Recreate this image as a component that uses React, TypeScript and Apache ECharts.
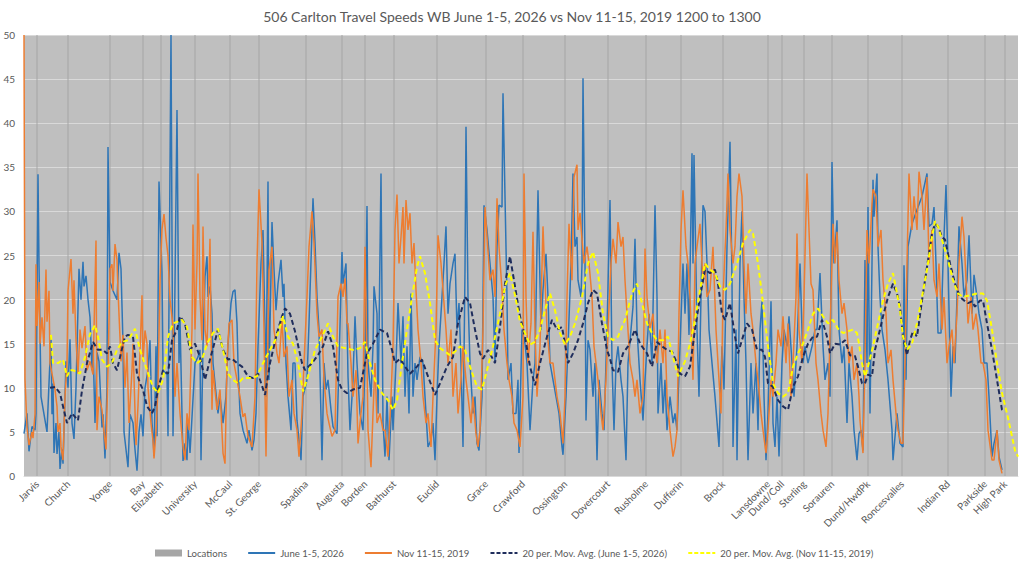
import React, { useEffect, useRef } from "react";
import * as echarts from "echarts";

const TITLE = "506 Carlton Travel Speeds WB June 1-5, 2026 vs Nov 11-15, 2019 1200 to 1300";
const SAMPLE_COUNT = 995;
const Y_TICKS = [0, 5, 10, 15, 20, 25, 30, 35, 40, 45, 50];

const LOCATIONS = ["Jarvis", "Church", "Yonge", "Bay", "Elizabeth", "University", "McCaul", "St. George", "Spadina", "Augusta", "Borden", "Bathurst", "Euclid", "Grace", "Crawford", "Ossington", "Dovercourt", "Rusholme", "Dufferin", "Brock", "Lansdowne", "Dund/Coll", "Sterling", "Sorauren", "Dund/HwdPk", "Roncesvalles", "Indian Rd", "Parkside", "High Park"];
const LOCATION_INDEX = [13, 44, 86, 119, 137, 171, 206, 235, 282, 318, 341, 370, 413, 462, 499, 541, 584, 622, 657, 699, 744, 758, 780, 808, 844, 878, 924, 961, 981];

const JUNE_2026 = [
  [0,4.8],[3,7.1],[5,2.8],[8,5.6],[11,5.2],[12,7.1],[14,34.2],[15,24],[17,9],[23,5],[25,10.5],[27,15.8],[28,7],[29,10.5],[30,2.6],[32,6],[33,2.5],[35,5],[36,0.8],[38,3],[39,1.4],[42,13],[44,10],[46,15.5],[48,6],[50,4.2],[52,10],[55,23.5],[57,20],[59,24.3],[60,21.5],[62,22.7],[64,20],[66,18],[68,12],[69,15],[71,6],[73,14],[75,13],[78,5.5],[79,7],[81,2],[83,10],[84,37.3],[86,22],[89,21],[93,20],[95,25.3],[97,23.5],[99,15],[100,5],[102,3],[104,1],[106,7],[109,6],[111,3],[113,0.6],[115,5],[117,7],[119,4.5],[121,10],[124,12],[126,15.4],[128,6],[129,4.5],[130,2.3],[132,14.7],[133,4.5],[135,33.4],[138,23],[139,12],[143,11.5],[144,4.5],[147,50],[149,4.5],[150,12],[153,41.5],
  [155,12.8],[156,17.7],[159,1.7],[161,3.7],[163,1.8],[164,6.3],[166,2.6],[171,12.8],[174,13.5],[176,14.3],[177,1.8],[179,14.7],[181,22.6],[183,24.9],[184,20.3],[186,21.5],[188,18.4],[189,12.8],[191,10.5],[194,7.1],[196,9],[199,6],[202,9],[204,15],[207,19.6],[209,20.9],[211,21.1],[213,17.3],[214,12.8],[216,7.1],[219,5.2],[223,3.7],[225,5.2],[228,2.9],[230,4.1],[232,7.1],[234,14.7],[237,24.1],[239,27.9],[241,16.6],[242,9],[244,33.4],[245,10.9],[248,28.8],[250,23.4],[252,18.8],[254,21.8],[257,24.5],[259,20.3],[260,21.8],[262,12.8],[264,9],[267,5.2],[269,12.8],[271,12.8],[273,6.3],[277,1.8],[279,9],[283,10.9],[285,17.3],[288,27.9],[289,31.5],[291,26.4],[293,20.3],[295,16.6],[298,1.8],[300,12.8],[302,9.8],[304,10.9],[307,7.5],[309,5.6],[313,4.8],[315,12.8],[318,25.4],[319,21.8],[322,24.1],[324,11.3],
  [326,5.2],[329,10.9],[331,18.1],[333,12.8],[336,7.1],[339,5.2],[341,12.8],[343,30.6],[344,12.8],[347,9],[349,14.7],[350,21.5],[353,18.4],[354,7.1],[357,34.3],[359,6],[361,2.2],[363,9],[365,1.8],[368,9],[369,5.2],[372,12.8],[374,19.6],[377,12.8],[379,18.1],[381,9],[383,14.7],[385,7.1],[387,20.7],[389,9],[391,12.8],[393,10.9],[396,13.5],[399,12.8],[402,7.1],[404,3.3],[407,4.1],[409,6],[411,1.8],[413,9],[415,14.7],[418,20.3],[420,24.1],[422,28.3],[424,18.4],[426,21.8],[429,24.1],[431,25.2],[433,16.6],[435,19.6],[437,12.8],[439,3.3],[441,23.4],[442,39.6],[444,20.3],[446,12.8],[449,7.1],[451,9],[453,3.7],[455,2.9],[458,9],[460,30.7],[463,27.9],[466,24.1],[469,20.3],[471,12.8],[473,26],[475,30.7],[478,30.5],[479,43.4],[481,31.7],[483,20.3],[484,10.9],[487,12.8],[489,7.1],[492,7.1],[494,10.9],
  [495,2.6],[498,16.6],[501,15],[503,12.8],[506,5.2],[509,10.9],[511,12.8],[514,32.4],[517,16.6],[519,21.1],[522,25.2],[524,20.3],[526,12.8],[529,10.9],[532,9],[535,7.1],[538,3.3],[539,2.4],[542,9],[544,14.7],[547,24.1],[549,34.3],[551,26],[553,27.1],[554,22.2],[557,20.3],[558,24.1],[559,45.1],[561,24.1],[562,6.3],[564,15.4],[566,14.3],[569,9],[571,12.8],[573,1.8],[575,10.9],[578,7.1],[580,5.2],[583,16.6],[586,31.3],[588,12.8],[590,5.2],[592,12.8],[594,14.7],[597,10.9],[599,9],[602,1.8],[604,12.8],[607,16.6],[609,19.2],[611,26.9],[613,16.6],[616,10.9],[619,6.3],[621,10.9],[623,14.7],[625,18.4],[628,12.8],[631,30.7],[633,20.3],[634,7.1],[637,12.8],[639,7.1],[641,10.9],[643,5.2],[646,9],[649,6],[651,7.1],[653,5.2],[656,14.7],[659,24.1],[661,18.4],[663,24.1],[665,16],[668,36.6],[669,24.1],[670,36.4],
  [673,16.6],[675,9],[678,26],[679,30.7],[681,30],[683,24.1],[685,16.6],[688,12.8],[691,9],[695,3.3],[698,14.7],[700,9.8],[703,26],[706,37.9],[708,22.2],[709,3.3],[712,16.6],[713,1.8],[716,24.1],[718,30],[720,20.3],[722,12.8],[724,1.8],[727,12.8],[729,7.1],[732,12.8],[734,5.2],[736,16.6],[738,19.8],[740,9],[742,1.8],[744,7.1],[747,19.8],[749,6],[751,3.3],[753,9],[755,2.2],[758,12.8],[760,16.6],[763,14.7],[765,18.1],[768,12.8],[770,9],[773,14.7],[776,24.1],[779,12.8],[781,14.7],[784,12.8],[788,14.7],[791,16.6],[793,16.6],[796,23],[799,14.7],[801,10.9],[804,12.8],[806,9],[808,35.6],[810,24.1],[813,29],[815,16.6],[818,12.8],[820,14.7],[823,6],[825,12.8],[828,9],[830,5.2],[833,1.8],[835,4.8],
  [837,5.2],[839,2.9],[841,24.5],[843,12.8],[844,30.5],[846,7.1],[848,24.1],[849,33.6],[850,29.4],[853,34.3],[854,26],[856,20.3],[858,16.6],[861,14.3],[864,10.9],[868,5.2],[869,1.8],[873,7.1],[876,3.7],[879,3.3],[880,23.9],[882,10.9],[884,26],[888,28.6],[893,30.2],[898,31.7],[903,34.3],[905,28.3],[908,28.6],[910,30.5],[912,24.1],[914,16.2],[917,16.2],[919,24.1],[922,33],[924,24.1],[927,9],[929,14.7],[931,12.8],[933,20.3],[935,28.3],[938,24.1],[940,20.3],[943,22.2],[945,27.3],[948,18.4],[950,22.8],[953,20.3],[955,18.4],[958,16.6],[960,12.8],[963,12.8],[965,9],[968,2.2],[970,3.7],[973,5.2],[975,2.2],[978,0.7]
];

const NOV_2019 = [
  [0,50],[1,11],[3,5.5],[5,3.5],[8,5],[9,4.3],[11,7],[12,24],[13,17],[15,22],[16,15],[18,18],[20,14.7],[22,23.4],[23,17.5],[25,21],[26,12.8],[29,11],[31,9.8],[33,7.9],[34,5],[36,6],[37,3.3],[39,1.8],[41,9],[43,12.8],[44,21],[47,24.6],[49,18.4],[50,22.2],[52,15.4],[54,11.6],[56,16.6],[58,14.5],[61,17],[63,12],[66,13],[69,11.5],[72,26.7],[73,5.2],[75,9],[78,7.5],[80,5],[82,3],[84,12],[86,23.5],[88,24],[89,21],[91,26.3],[93,24.5],[94,21],[97,13],[99,16],[101,10],[103,14],[105,6],[108,12],[109,15],[112,3.5],[114,8],[116,14],[118,20.5],[119,13],[121,16.5],[123,15],[124,10],[127,6],[129,4],[130,2],[132,5],[134,10],[136,22],[138,28],[140,29.7],[142,27],[144,25],[146,20],[149,17],
  [151,9],[153,12.8],[156,7.1],[159,3.3],[161,1.8],[163,7.1],[165,5.2],[168,16.6],[169,28.5],[171,16.6],[173,24.1],[174,34.3],[176,20.3],[178,15.4],[179,28.3],[181,16.6],[183,14.7],[186,26.9],[188,7.5],[189,12],[193,7.5],[196,9.8],[199,2.6],[201,1.4],[203,12.8],[205,17.3],[208,17.7],[210,12.8],[213,10.9],[216,9],[219,6.7],[221,7.1],[224,4.5],[228,3.3],[231,9],[233,24.1],[235,32.5],[238,26.4],[240,16.6],[242,2.2],[245,23.4],[248,26],[250,16.6],[253,13.9],[255,12.8],[258,17.7],[260,13.5],[263,14.7],[265,9],[268,10.9],[270,7.1],[273,5.2],[275,2.2],[278,7.1],[280,12.8],[283,20.3],[285,26],[288,30],[290,26.4],[293,18.4],[295,15.8],[298,16.6],[300,10.9],[303,7.1],[305,6],[308,4.5],[311,5.2],[314,20.3],[317,21.8],[319,20.3],[321,22.4],[323,17.3],
  [324,17.3],[327,12.8],[329,9],[332,12],[334,3.7],[337,7.1],[339,9],[341,26],[343,12.8],[344,5.2],[347,1],[349,7.1],[351,12.8],[353,6],[356,7.1],[359,5.2],[361,5.2],[364,2.2],[367,9],[369,14.7],[371,27.9],[373,31.9],[375,24.1],[377,27.1],[379,30.5],[380,24.1],[382,31.3],[384,27.9],[386,29.8],[388,24.1],[390,26.4],[392,21.1],[394,16.6],[397,12.8],[399,9],[402,6],[404,7.1],[407,3.3],[409,9],[412,16.6],[414,27.3],[417,24.1],[419,21.1],[422,16.6],[424,12.8],[427,16.6],[429,9],[432,12.8],[434,7.1],[437,10.9],[439,14.7],[442,10.9],[444,9],[447,6],[449,9],[452,4.8],[454,3.3],[456,5.2],[459,16.6],[461,30.5],[463,27.1],[466,22.2],[469,23.4],[471,20.3],[473,31.5],[475,26],[478,21.1],[480,16.6],[483,12.8],[485,10.9],[488,9],[490,6],[493,5.2],[496,3.3],
  [499,9],[500,34.3],[502,20.3],[504,12.8],[507,17.3],[509,27.7],[511,16.6],[513,9],[516,14.7],[519,28.3],[521,22.2],[523,16.6],[526,12.8],[529,12.8],[531,10.9],[533,9],[536,7.1],[539,3.7],[541,9],[543,20.3],[545,28.6],[548,22.2],[550,33.9],[553,35.3],[554,27.9],[556,29.8],[558,26.8],[560,24.1],[563,26],[565,24.1],[568,20.3],[570,14.7],[572,12.8],[574,10.9],[577,7.1],[579,5.2],[582,10.9],[584,16.6],[587,24.1],[589,26.9],[592,24.1],[594,28.8],[597,26],[599,27.1],[601,22.2],[603,18.4],[606,12.8],[609,10.9],[611,9],[613,10.9],[616,7.1],[619,9],[621,25.8],[623,20.3],[626,16.6],[629,18.4],[631,14.7],[633,12.8],[636,16.6],[639,12.8],[641,16.6],[643,9],[646,5.2],[649,2.2],[651,3.3],[653,5.2],[655,18.4],[657,27.9],[659,32.4],[662,26],[664,24.1],
  [666,20.3],[669,10.9],[671,24.1],[673,26],[676,28.6],[679,21.8],[681,24.1],[683,20.3],[686,21.1],[689,26],[692,16.6],[694,12.8],[697,7.1],[699,20.3],[702,27.9],[704,34.3],[706,27.9],[709,24.1],[711,26],[713,31.7],[715,34.3],[718,31.7],[720,24.1],[722,18.4],[724,24.1],[727,18.4],[729,16.6],[732,12.8],[734,10.9],[737,7.1],[739,5.2],[742,2.6],[744,5.2],[747,10.9],[749,9],[752,12.8],[754,16.6],[757,14.7],[759,18.1],[762,12.8],[764,17.3],[767,9],[769,12.8],[772,20.3],[773,27.5],[775,16.6],[778,12.8],[780,20.3],[783,34.3],[785,27.9],[787,21.8],[789,21.1],[792,12.8],[794,10.9],[797,7.1],[799,5.2],[802,3.3],[804,7.1],[807,20.3],[809,28.6],[811,24.1],[813,27.7],[815,22.2],[818,18.4],[820,19.6],[823,16.6],[825,12.8],[828,14.7],[830,10.9],[833,12.8],[835,9],
  [836,6.3],[839,2.6],[841,12.8],[843,27.9],[845,24.1],[848,30.9],[849,32.5],[852,31.7],[854,26],[857,27.9],[859,22.2],[862,18.4],[864,12.8],[867,14.3],[869,10.9],[872,7.1],[874,5.2],[877,3.7],[879,3.7],[881,12.8],[883,24.1],[885,34.3],[888,27.9],[890,31.7],[893,27.9],[895,34.5],[898,31.7],[900,27.9],[903,33.9],[905,24.1],[908,27.9],[910,22.2],[913,20.3],[915,24.1],[918,16.6],[920,20.3],[923,12.8],[925,14.7],[928,16.6],[930,12.8],[933,18.4],[935,24.1],[938,29.4],[940,27.1],[942,22.2],[944,17.3],[947,20.3],[949,16.6],[952,18.4],[954,16.6],[957,12.8],[959,12.8],[962,10.9],[964,5.2],[968,1.8],[970,1.8],[973,5.2],[975,1.8],[978,0.3]
];

const JUNE_MA = [
  [26,10],[31,10.1],[36,9.4],[39,7.9],[43,6],[48,7.1],[51,6.7],[54,6.3],[58,9.7],[63,12.8],[69,15.2],[74,14.3],[79,14.3],[83,13.9],[86,14.7],[89,12.8],[93,12],[96,13.5],[101,15.8],[104,16],[109,15.8],[113,11.6],[116,10.5],[119,9.8],[123,7.9],[128,7.1],[131,7.9],[134,9.8],[139,12],[144,11.6],[148,15.4],[153,16.6],[156,18.1],[161,17.3],[166,14.3],[171,15],[176,13.5],[181,10.9],[186,13.2],[194,16.6],[199,14.3],[204,13.2],[208,13.3],[213,12.8],[218,12.4],[224,11.3],[229,11.1],[234,11.6],[241,9.2],[246,12.8],[253,16.2],[258,18.1],[261,19],[266,18.4],[271,16.4],[278,12.8],[281,12],[288,12.8],[294,13.7],[299,14.7],[304,16.4],[309,14.7],[314,10.9],[318,9.8],[323,9.4],[329,9.8],[336,10],[343,13.9],[349,15],[356,16.6],[363,16.2],[368,14.3],[371,12.8],[376,13.3],[381,12.4],[386,11.6],[393,12.4],[398,13.2],[403,11.6],[411,9.2],[416,10.5],[423,12.4],[429,13.5],[434,17.3],[441,20.3],[446,19.6],[451,16.6],[456,13.9],[459,13.3],[464,14.3],[471,12.8],[476,16.9],[481,21.8],[486,24.9],[491,21.5],[496,18.1],[501,15.8],[506,12.4],[511,10.3],[516,12.8],[523,15.8],[528,17.7],[533,16.6],[538,16.9],[541,15],[544,12.8],[549,13.9],[554,15.4],[559,17.3],[564,19.6],[569,21.1],[573,20.7],[578,17.3],[583,14.3],[586,13.3],[589,12],[594,11.8],[599,13.9],[604,14.7],[611,16.6],[616,15],[623,13.9],[628,12.4],[633,15.2],[638,14.7],[643,14.3],[648,14.1],[653,12.8],[656,11.6],[661,11.3],[666,12.4],[671,16.6],[676,20.3],[681,23.4],[686,23],[691,23.4],[694,21.8],[698,18.4],[701,17.7],[706,19.6],[711,15.8],[714,13.9],[719,15.8],[723,17.3],[728,16.6],[733,14.3],[738,14.3],[741,13.5],[744,10.5],[749,10.1],[754,8.6],[759,7.9],[764,7.5],[769,10.1],[774,11.3],[779,13.5],[784,15],[789,15.8],[793,15.8],[798,17.7],[803,15.8],[806,13.9],[811,15],[816,14.9],[821,15.4],[826,13.7],[831,13.6],[834,12.4],[838,10.5],[841,10.5],[844,11.5],[848,11.3],[851,14.3],[856,16.6],[859,18.1],[864,20.3],[869,21.8],[873,20.7],[876,19.2],[879,15.8],[883,13.7],[886,15.4],[889,16.4],[893,15.8],[898,19.9],[903,23.7],[908,27.5],[911,28.6],[914,28.3],[918,27.1],[921,26.8],[926,24.1],[931,21.8],[936,20.3],[941,19.8],[944,19.6],[948,19.8],[951,19.2],[956,19.9],[959,19.9],[963,17.3],[968,14.3],[973,10.9],[978,7.5],[980,7.5]
];

const NOV_MA = [
  [27,16],[29,12.8],[34,12.8],[39,13.2],[43,11.3],[46,12],[49,12],[56,11.6],[61,13.5],[66,16.1],[71,17.1],[74,15.8],[78,13.2],[83,12.4],[88,12.8],[93,14.3],[98,15.2],[104,15.4],[111,16.7],[116,14.3],[123,12],[129,10.1],[134,9.4],[139,10.9],[144,15.8],[149,17.3],[158,17.7],[163,16.9],[168,13.5],[173,12.8],[178,13.2],[183,15],[189,16.2],[194,16.7],[199,14.3],[204,11.6],[209,10.9],[214,10.5],[219,11.1],[226,11.1],[233,11.3],[239,12.8],[246,14.3],[253,15.8],[259,18.1],[264,15.8],[269,15],[274,12.8],[279,9.6],[284,11.3],[291,14.3],[298,15.8],[304,17.3],[309,15.8],[314,14.7],[321,14.5],[329,14.3],[336,14.5],[341,15.2],[346,12.8],[351,10.9],[358,9.4],[364,8.6],[369,7.5],[373,8.6],[378,12.8],[383,16.6],[388,20.3],[393,23.7],[396,24.9],[401,23],[406,19.6],[411,15.4],[416,14.5],[421,14.1],[426,13.7],[431,14.1],[436,14.7],[441,14.3],[446,12.4],[453,10.1],[458,9.8],[463,12],[469,14.7],[476,18.4],[481,21.5],[486,23],[491,20.5],[496,17.5],[501,16.2],[506,14.9],[511,15.2],[516,16.6],[521,18.8],[526,20.7],[531,18.8],[536,16.2],[541,14.9],[546,15.8],[551,17.3],[558,20.3],[564,24.1],[569,25.4],[574,23],[579,18.4],[584,15.8],[589,15.4],[594,15.8],[601,17.7],[608,20.7],[613,21.8],[618,19.6],[623,17.3],[628,16.2],[633,15.4],[639,15.4],[644,15.8],[649,13.5],[654,11.3],[656,11.8],[661,13],[666,15],[671,17.7],[676,21.1],[681,24.1],[686,23.4],[691,23],[696,21.5],[701,21.1],[706,21.8],[713,24.1],[719,26.4],[726,27.9],[729,27.5],[734,24.1],[739,19.6],[744,14.7],[749,10.5],[754,9.4],[759,9],[764,9.4],[769,12.4],[774,13.9],[779,15],[784,16.6],[789,18.4],[794,19],[799,18.1],[804,17.3],[809,17.7],[814,16.7],[819,16.2],[824,16.4],[829,16.6],[833,16.2],[835,15],[838,12.8],[841,11.3],[844,12.4],[849,14.7],[854,17.3],[859,19.9],[864,21.8],[869,23],[873,20.7],[876,18.8],[879,15.8],[883,14.3],[888,15],[893,17.3],[898,20.3],[903,23.4],[908,27.1],[911,28.9],[914,28.3],[919,26.4],[924,24.5],[929,22.2],[934,20.7],[939,20.3],[946,20.5],[953,20.7],[959,20.7],[963,19.9],[968,16.6],[973,12.8],[978,9.4],[983,7.1],[988,4.5],[991,2.9],[994,2.2]
];

const FONT = "Lato, 'Liberation Sans', sans-serif";
const TEXT_COLOR = "#595959";
const SOLID_ICON = "path://M0,0h27v2h-27z";
const DASH_ICON = "path://M0,0h4v2h-4zM6,0h4v2h-4zM12,0h4v2h-4zM18,0h4v2h-4zM24,0h3v2h-3z";

export default function App() {
  const ref = useRef<HTMLDivElement>(null);

  useEffect(() => {
    if (!ref.current) return;
    const chart = echarts.init(ref.current, undefined, { renderer: "svg" });
    const categories = Array.from({ length: SAMPLE_COUNT }, (_, i) => String(i + 1));
    const labelOf = (i: number) => {
      const k = LOCATION_INDEX.indexOf(i);
      return k >= 0 ? LOCATIONS[k] : "";
    };
    const locationBars = LOCATION_INDEX.map((i) => [i, Y_TICKS[Y_TICKS.length - 1]]);

    chart.setOption({
      animation: false,
      backgroundColor: "#ffffff",
      textStyle: { fontFamily: FONT },
      title: {
        text: TITLE,
        left: "center",
        top: 4,
        textStyle: { fontFamily: FONT, fontSize: 14, fontWeight: "normal", color: TEXT_COLOR },
      },
      legend: {
        left: 150,
        top: 543,
        itemWidth: 27,
        itemHeight: 7,
        itemGap: 21,
        textStyle: { fontFamily: FONT, fontSize: 9.6, color: TEXT_COLOR },
        data: [
          { name: "Locations", icon: "rect" },
          { name: "June 1-5, 2026", icon: SOLID_ICON },
          { name: "Nov 11-15, 2019", icon: SOLID_ICON },
          { name: "20 per. Mov. Avg. (June 1-5, 2026)", icon: DASH_ICON },
          { name: "20 per. Mov. Avg. (Nov 11-15, 2019)", icon: DASH_ICON },
        ],
      },
      grid: {
        left: 24,
        right: 6,
        top: 35,
        bottom: 85,
        show: true,
        backgroundColor: "#BFBFBF",
        borderWidth: 0,
      },
      xAxis: {
        type: "category",
        data: categories,
        boundaryGap: false,
        axisLine: { show: true, lineStyle: { color: "#D9D9D9" } },
        axisTick: { show: false },
        splitLine: { show: false },
        axisLabel: {
          interval: (i: number) => LOCATION_INDEX.indexOf(i) >= 0,
          formatter: (_v: string, i: number) => labelOf(i),
          rotate: 45,
          margin: 6,
          fontSize: 10,
          color: TEXT_COLOR,
          fontFamily: FONT,
        },
      },
      yAxis: {
        type: "value",
        min: 0,
        max: 50,
        interval: 5,
        axisLine: { show: false },
        axisTick: { show: false },
        splitLine: { lineStyle: { color: "#D9D9D9", width: 1 } },
        axisLabel: { fontSize: 10, color: TEXT_COLOR, fontFamily: FONT, margin: 9 },
      },
      series: [
        {
          name: "Locations",
          type: "bar",
          data: locationBars,
          barWidth: 1,
          itemStyle: { color: "#A6A6A6" },
          z: 1,
        },
        {
          name: "June 1-5, 2026",
          type: "line",
          data: JUNE_2026,
          symbol: "none",
          lineStyle: { color: "#2E75B6", width: 1.5 },
          itemStyle: { color: "#2E75B6" },
          z: 2,
        },
        {
          name: "Nov 11-15, 2019",
          type: "line",
          data: NOV_2019,
          symbol: "none",
          lineStyle: { color: "#ED7D31", width: 1.5 },
          itemStyle: { color: "#ED7D31" },
          z: 3,
        },
        {
          name: "20 per. Mov. Avg. (June 1-5, 2026)",
          type: "line",
          data: JUNE_MA,
          symbol: "none",
          lineStyle: { color: "#1F2D5C", width: 2, type: [5, 3] },
          itemStyle: { color: "#1F2D5C" },
          z: 4,
        },
        {
          name: "20 per. Mov. Avg. (Nov 11-15, 2019)",
          type: "line",
          data: NOV_MA,
          symbol: "none",
          lineStyle: { color: "#FFFF00", width: 2, type: [5, 3] },
          itemStyle: { color: "#FFFF00" },
          z: 5,
        },
      ],
    });
    return () => chart.dispose();
  }, []);

  return (
    <div
      ref={ref}
      style={{ position: "fixed", left: 0, top: 0, width: 1024, height: 561, background: "#ffffff" }}
    />
  );
}
